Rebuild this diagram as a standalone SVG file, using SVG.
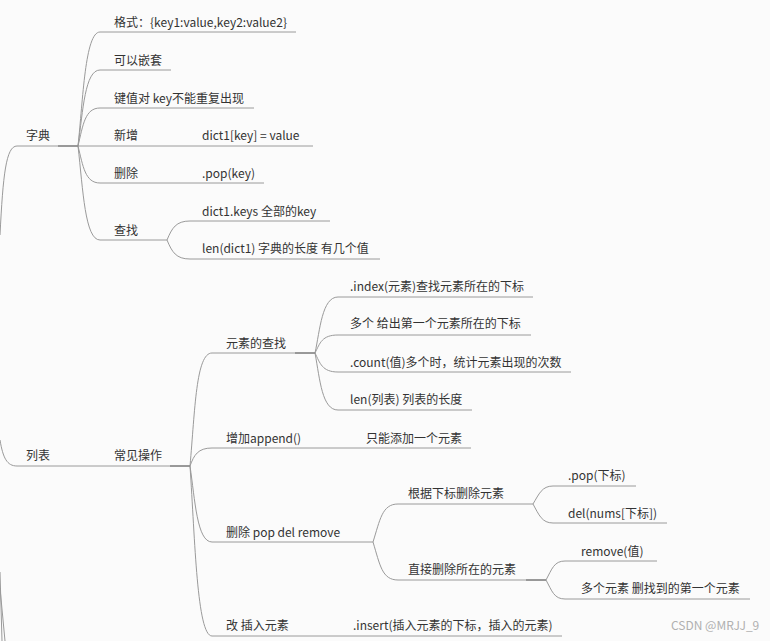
<svg xmlns="http://www.w3.org/2000/svg" width="770" height="641" viewBox="0 0 770 641">
<style>
text{font-family:"Noto Sans CJK SC","Microsoft YaHei",sans-serif;font-size:12px;fill:#333}
.ln{fill:none;stroke:#9a9a9a;stroke-width:1}
.th{fill:none;stroke:#8c8c8c;stroke-width:1.6}
.wm{font-size:12px;fill:#b0b0b0}
</style>
<rect width="770" height="641" fill="#fbfbfb"/>
<g id="connectors">
<path class="ln" d="M0,235 C3,175 6,146 17,146"/>
<path class="ln" d="M0,440 C3,458 7,466 17,466"/>
<path class="ln" d="M0,572 L2,641"/>
<path class="ln" d="M0,588 L5,641"/>
<path class="ln" d="M78,146 C83,100 85,32 100,32"/>
<path class="ln" d="M78,146 C83,110 85,70 100,70"/>
<path class="ln" d="M78,146 C83,125 85,108 100,108"/>
<path class="ln" d="M78,146 L100,146"/>
<path class="ln" d="M78,146 C83,166 85,183 100,183"/>
<path class="ln" d="M78,146 C83,190 85,240 100,240"/>
<path class="ln" d="M167,240 C172,228 176,221 190,221"/>
<path class="ln" d="M167,240 C172,252 176,259 190,259"/>
<path class="ln" d="M190,466 C195,410 196,353 212,353"/>
<path class="ln" d="M190,466 C194,455 198,448 212,448"/>
<path class="ln" d="M190,466 C195,500 197,542 212,542"/>
<path class="ln" d="M190,466 C195,540 197,636 212,636"/>
<path class="ln" d="M315,353 C320,330 322,297 338,297"/>
<path class="ln" d="M315,353 C320,343 322,335 338,335"/>
<path class="ln" d="M315,353 C320,363 322,372 338,372"/>
<path class="ln" d="M315,353 C320,380 322,410 338,410"/>
<path class="ln" d="M373,542 C380,520 382,504 398,504"/>
<path class="ln" d="M373,542 C380,565 382,580 398,580"/>
<path class="ln" d="M533,504 C539,494 542,486 553,486"/>
<path class="ln" d="M533,504 C539,515 542,523 553,523"/>
<path class="ln" d="M546,580 C552,569 554,561 565,561"/>
<path class="ln" d="M546,580 C552,591 554,599 565,599"/>
</g>
<g id="n-dict">
<path class="ln" d="M17,146 H78"/><path class="th" d="M58,146 H78"/>
<text x="26" y="140">字典</text>
</g>
<g id="n-format"><path class="ln" d="M100,32 H296"/><text x="114" y="27">格式：{key1:value,key2:value2}</text></g>
<g id="n-nest"><path class="ln" d="M100,70 H171"/><text x="114" y="65">可以嵌套</text></g>
<g id="n-kv"><path class="ln" d="M100,108 H254"/><text x="114" y="103">键值对 key不能重复出现</text></g>
<g id="n-add"><path class="ln" d="M100,146 H190"/><text x="114" y="140">新增</text></g>
<g id="n-add-v"><path class="ln" d="M190,146 H313"/><text x="202" y="140">dict1[key] = value</text></g>
<g id="n-del"><path class="ln" d="M100,183 H190"/><text x="114" y="178">删除</text></g>
<g id="n-del-v"><path class="ln" d="M190,183 H264"/><text x="202" y="178">.pop(key)</text></g>
<g id="n-find"><path class="ln" d="M100,240 H167"/><text x="114" y="235">查找</text></g>
<g id="n-keys"><path class="ln" d="M190,221 H330"/><text x="202" y="216">dict1.keys 全部的key</text></g>
<g id="n-len"><path class="ln" d="M190,259 H380"/><text x="202" y="253">len(dict1) 字典的长度 有几个值</text></g>
<g id="n-list">
<path class="ln" d="M17,466 H110"/>
<text x="26" y="460">列表</text>
</g>
<g id="n-ops">
<path class="ln" d="M110,466 H190"/><path class="th" d="M170,466 H190"/>
<text x="114" y="460">常见操作</text>
</g>
<g id="n-search">
<path class="ln" d="M212,353 H315"/><path class="th" d="M295,353 H315"/>
<text x="226" y="348">元素的查找</text>
</g>
<g id="n-index"><path class="ln" d="M338,297 H533"/><text x="350" y="291">.index(元素)查找元素所在的下标</text></g>
<g id="n-multi"><path class="ln" d="M338,335 H531"/><text x="350" y="328">多个 给出第一个元素所在的下标</text></g>
<g id="n-count"><path class="ln" d="M338,372 H571"/><text x="350" y="367">.count(值)多个时，统计元素出现的次数</text></g>
<g id="n-llen"><path class="ln" d="M338,410 H472"/><text x="350" y="404">len(列表) 列表的长度</text></g>
<g id="n-append"><path class="ln" d="M212,448 H360"/><text x="226" y="443">增加append()</text></g>
<g id="n-append-v"><path class="ln" d="M360,448 H471"/><text x="366" y="443">只能添加一个元素</text></g>
<g id="n-remove"><path class="ln" d="M212,542 H373"/><text x="226" y="537">删除 pop del remove</text></g>
<g id="n-byidx"><path class="ln" d="M398,504 H533"/><text x="408" y="498">根据下标删除元素</text></g>
<g id="n-pop"><path class="ln" d="M553,486 H636"/><text x="568" y="480">.pop(下标)</text></g>
<g id="n-delnums"><path class="ln" d="M553,523 H667"/><text x="568" y="518">del(nums[下标])</text></g>
<g id="n-direct">
<path class="ln" d="M398,580 H546"/><path class="th" d="M526,580 H546"/>
<text x="408" y="574">直接删除所在的元素</text>
</g>
<g id="n-rmval"><path class="ln" d="M565,561 H657"/><text x="581" y="556">remove(值)</text></g>
<g id="n-rmfirst"><path class="ln" d="M565,599 H750"/><text x="581" y="593">多个元素 删找到的第一个元素</text></g>
<g id="n-insert"><path class="ln" d="M212,636 H345"/><text x="226" y="630">改 插入元素</text></g>
<g id="n-insert-v"><path class="ln" d="M345,636 H562"/><text x="353" y="630">.insert(插入元素的下标，插入的元素)</text></g>
<text class="wm" x="671" y="630">CSDN @MRJJ_9</text>
</svg>
